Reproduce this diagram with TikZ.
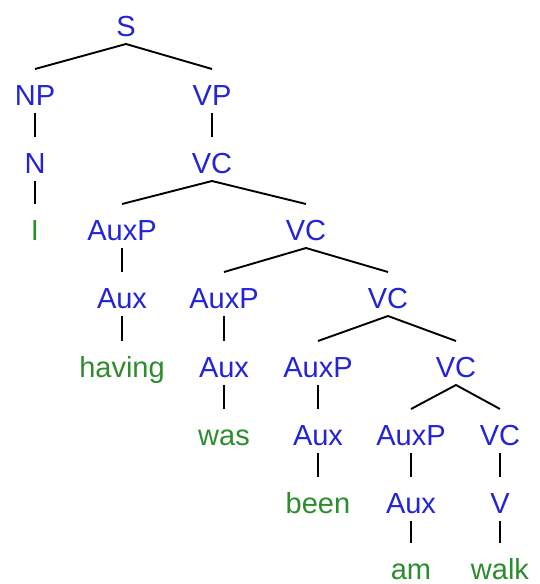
\documentclass[tikz,border=0pt]{standalone}
\usepackage{fontspec}
\setmainfont{Liberation Sans}
\definecolor{lblue}{RGB}{35,35,215}
\definecolor{lgreen}{RGB}{45,140,45}
\begin{document}
\begin{tikzpicture}[x=1pt,y=-1pt,
 lab/.style={anchor=base, inner xsep=0pt, inner ysep=8pt, outer sep=0pt, text height=28pt, text depth=0pt, font=\fontsize{29}{34}\selectfont},
 cat/.style={lab, text=lblue},
 word/.style={lab, text=lgreen},
 branch/.style={draw=black, line width=1.9pt},
 stem/.style={draw=black, line width=1.5pt}]
\useasboundingbox (0,0) rectangle (540,584);
\node[cat] (S) at (126,36) {S};
\node[cat] (NP) at (35,105) {NP};
\node[cat] (VP) at (212,105) {VP};
\node[cat] (N) at (35,173) {N};
\node[cat] (VC1) at (212,173) {VC};
\node[word] (I) at (35,240) {I};
\node[cat] (AuxP1) at (122,240) {AuxP};
\node[cat] (VC2) at (306,240) {VC};
\node[cat] (Aux1) at (122,308) {Aux};
\node[cat] (AuxP2) at (224,308) {AuxP};
\node[cat] (VC3) at (388,308) {VC};
\node[word] (having) at (122,377) {having};
\node[cat] (Aux2) at (224,377) {Aux};
\node[cat] (AuxP3) at (318,377) {AuxP};
\node[cat] (VC4) at (456,377) {VC};
\node[word] (was) at (224,445) {was};
\node[cat] (Aux3) at (318,445) {Aux};
\node[cat] (AuxP4) at (411,445) {AuxP};
\node[cat] (VC5) at (500,445) {VC};
\node[word] (been) at (318,513) {been};
\node[cat] (Aux4) at (411,513) {Aux};
\node[cat] (V) at (500,513) {V};
\node[word] (am) at (411,579) {am};
\node[word] (walk) at (500,579) {walk};
\draw[branch] (NP.north) -- (S.south) -- (VP.north);
\draw[branch] (AuxP1.north) -- (VC1.south) -- (VC2.north);
\draw[branch] (AuxP2.north) -- (VC2.south) -- (VC3.north);
\draw[branch] (AuxP3.north) -- (VC3.south) -- (VC4.north);
\draw[branch] (AuxP4.north) -- (VC4.south) -- (VC5.north);
\draw[stem] (NP.south) -- (N.north);
\draw[stem] (N.south) -- (I.north);
\draw[stem] (VP.south) -- (VC1.north);
\draw[stem] (AuxP1.south) -- (Aux1.north);
\draw[stem] (Aux1.south) -- (having.north);
\draw[stem] (AuxP2.south) -- (Aux2.north);
\draw[stem] (Aux2.south) -- (was.north);
\draw[stem] (AuxP3.south) -- (Aux3.north);
\draw[stem] (Aux3.south) -- (been.north);
\draw[stem] (AuxP4.south) -- (Aux4.north);
\draw[stem] (Aux4.south) -- (am.north);
\draw[stem] (VC5.south) -- (V.north);
\draw[stem] (V.south) -- (walk.north);
\end{tikzpicture}
\end{document}
